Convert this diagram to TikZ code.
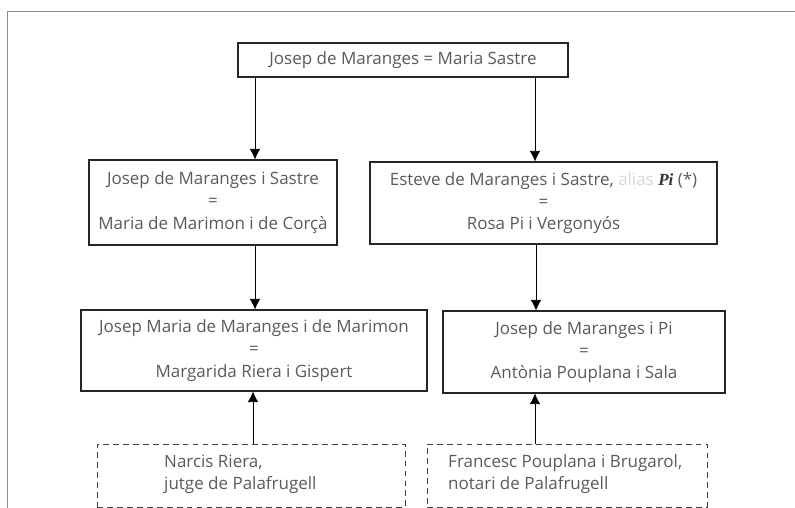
\documentclass[tikz,border=0pt]{standalone}
\usepackage{fontspec}
\setmainfont{Open Sans}
\newfontfamily\pifont{Liberation Serif}
\usetikzlibrary{arrows.meta}
\definecolor{txtgray}{RGB}{90,90,90}
\definecolor{aliasgray}{RGB}{215,215,215}
\begin{document}
\begin{tikzpicture}[scale=0.3]
\tikzstyle{every node}+=[inner sep=0pt, text=txtgray, font=\fontsize{14.5}{19}\selectfont, align=center]
\tikzstyle{box}=[draw=black!85, line width=0.9pt, rectangle]
\tikzstyle{dbox}=[draw=black!75, line width=0.8pt, rectangle, dash pattern=on 5pt off 3.5pt]
\tikzstyle{link}=[black, line width=0.6pt, -{Latex[length=9pt,width=9pt]}]
\useasboundingbox (0,0) rectangle (79.5,-50.8);
\draw [black!45, line width=0.4pt] (0.7,-50.8) -- (0.7,-1.1) -- (79.5,-1.1);
\node [box, minimum width=9.9cm, minimum height=1.02cm] (top) at (40.3,-6.0) {Josep de Maranges = Maria Sastre};
\node [box, minimum width=7.44cm, minimum height=2.55cm] (josep2) at (21.3,-20.25) {Josep de Maranges i Sastre\\=\\Maria de Marimon i de Corçà};
\node [box, minimum width=10.41cm, minimum height=2.46cm] (esteve) at (54.35,-20.3) {Esteve de Maranges i Sastre, {\color{aliasgray}alias} {\pifont\bfseries\itshape\color{black!80}Pi} (*)\\=\\Rosa Pi i Vergonyós};
\node [box, minimum width=10.38cm, minimum height=2.43cm] (josepm) at (25.4,-35.05) {Josep Maria de Maranges i de Marimon\\=\\Margarida Riera i Gispert};
\node [box, minimum width=8.46cm, minimum height=2.46cm] (josepp) at (58.4,-35.2) {Josep de Maranges i Pi\\=\\Antònia Pouplana i Sala};
\node [dbox, minimum width=9.24cm, minimum height=1.89cm] (narcis) at (25.1,-47.55) {};
\node [anchor=west, align=left] (narcis-t) at (16.4,-47.4) {Narcis Riera,\\jutge de Palafrugell};
\node [dbox, minimum width=8.4cm, minimum height=1.89cm] (francesc) at (56.7,-47.55) {};
\node [anchor=west, align=left] (francesc-t) at (44.8,-47.4) {Francesc Pouplana i Brugarol,\\notari de Palafrugell};
\draw [link] (top.south -| 25.5,0) -- (josep2.north -| 25.5,0);
\draw [link] (top.south -| 53.5,0) -- (esteve.north -| 53.5,0);
\draw [link] (josep2.south -| 25.5,0) -- (josepm.north -| 25.5,0);
\draw [link] (esteve.south -| 53.6,0) -- (josepp.north -| 53.6,0);
\draw [link] (narcis.north -| 25.3,0) -- (josepm.south -| 25.3,0);
\draw [link] (francesc.north -| 53.5,0) -- (josepp.south -| 53.5,0);
\end{tikzpicture}
\end{document}
